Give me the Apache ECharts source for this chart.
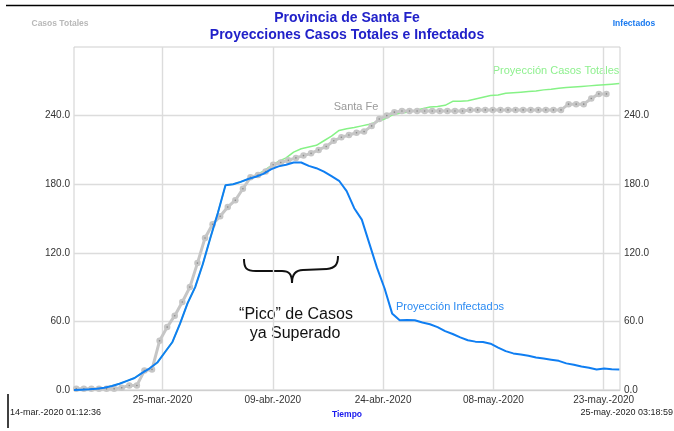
<!DOCTYPE html>
<html>
<head>
<meta charset="utf-8">
<script src="https://cdn.jsdelivr.net/npm/echarts@6/dist/echarts.min.js"></script>
<style>
  html, body { margin: 0; padding: 0; background: #fff; }
  #chart { width: 674px; height: 431px; }
</style>
</head>
<body>
<div id="chart"></div>
<script>
// dias desde el inicio de la simulacion (14-mar.-2020 01:12:36)
const diasTotal = 72.09;
const posFechas = [11.69, 26.25, 40.81, 55.37, 69.93];
const etiquetasFechas = ['25-mar.-2020', '09-abr.-2020', '24-abr.-2020', '08-may.-2020', '23-may.-2020'];
const etiquetasY = [0, 60, 120, 180, 240];

// casos reportados Santa Fe (un punto por dia)
const inicioSantaFe = 0.3;
const casosSantaFe = [1, 1, 1, 1, 1, 1, 2, 4, 4, 17,
  18, 43, 55, 65, 77, 90, 111, 133, 145, 152,
  160, 166, 176, 186, 188, 191, 197, 199, 201, 203,
  205, 207, 210, 213, 218, 221, 223, 225, 226, 231,
  237, 240, 243, 244, 244, 244, 244, 244, 244, 244,
  244, 244, 245, 245, 245, 245, 245, 245, 245, 245,
  245, 245, 245, 245, 245, 250, 250, 250, 255, 259,
  259];

// proyecciones del modelo (un valor por dia)
const proyCasosTotales = [0, 0.3, 0.6, 1, 2, 3.5, 5.5, 8, 10.5, 15,
  19, 24, 33, 42, 58, 76, 90, 110, 133, 155,
  179, 180, 182, 184.5, 188, 191.5, 196, 200, 203, 208,
  211, 212.5, 214, 218, 222, 227, 228.5, 229.5, 231, 232.5,
  234.5, 237, 240.5, 242, 243, 244.5, 246, 247.5, 248, 249,
  252.5, 252.5, 253, 254.5, 256, 257.5, 258, 259.5, 260, 260.5,
  261, 261.5, 262.5, 263, 264, 264.5, 265, 265.5, 266, 266.5,
  267, 267.5, 268];

const proyInfectados = [0, 0.3, 0.6, 1, 2, 3.5, 5.5, 8, 10.5, 15,
  19, 24, 33, 42, 58, 76, 90, 110, 133, 155,
  179, 180, 182, 184.5, 186.5, 189, 193, 195.6, 197, 199,
  199, 196, 194, 191, 187, 183, 174, 159, 149, 128,
  107, 89, 67, 61, 61.3, 61, 59, 57.5, 55, 51.5,
  49, 46, 43.5, 42.3, 42, 40.5, 37, 34, 32, 31,
  30, 28.5, 27.5, 26.5, 25.5, 23.3, 22, 20.5, 19.5, 18,
  18.8, 18.2, 18];

const fuente = 'Liberation Sans';
const azul = '#0f7ef2';
const verde = '#86f286';
const gris = '#c6c6c6';

const datosSantaFe = casosSantaFe.map((v, i) => [inicioSantaFe + i, v]);
const datosTotales = proyCasosTotales.map((v, i) => [i, v]);
const datosInfectados = proyInfectados.map((v, i) => [i, v]);

const chart = echarts.init(document.getElementById('chart'));

const ejeY = (pos) => ({
  type: 'value',
  position: pos,
  min: 0,
  max: 300,
  axisLine: { show: false },
  axisTick: { show: false, customValues: etiquetasY },
  axisLabel: {
    customValues: etiquetasY,
    margin: 4,
    fontSize: 10,
    fontFamily: fuente,
    color: '#333',
    formatter: (v) => v.toFixed(1),
  },
  splitLine: { show: pos === 'left', lineStyle: { color: '#dcdcdc', width: 1.4 } },
});

// llave "}" acostada del comentario
const trazo = { stroke: '#111', lineWidth: 2, fill: null };
const llave = [
  { type: 'bezierCurve', shape: { x1: 244, y1: 259, cpx1: 244, cpy1: 268, cpx2: 246, cpy2: 271, x2: 256, y2: 271 }, style: trazo },
  { type: 'line', shape: { x1: 256, y1: 271, x2: 282, y2: 271 }, style: trazo },
  { type: 'bezierCurve', shape: { x1: 282, y1: 271, cpx1: 289, cpy1: 271, cpx2: 292, cpy2: 274, x2: 292, y2: 283 }, style: trazo },
  { type: 'bezierCurve', shape: { x1: 292, y1: 283, cpx1: 292, cpy1: 274, cpx2: 296, cpy2: 270, x2: 303, y2: 270 }, style: trazo },
  { type: 'line', shape: { x1: 303, y1: 270, x2: 327, y2: 269 }, style: trazo },
  { type: 'bezierCurve', shape: { x1: 327, y1: 269, cpx1: 335, cpy1: 268, cpx2: 338, cpy2: 265, x2: 338, y2: 256 }, style: trazo },
];

const texto = (x, y, text, fill, fontSize, align, extra) => ({
  type: 'text', x, y,
  style: Object.assign({ text, fill, fontSize, fontFamily: fuente, align, verticalAlign: 'middle' }, extra || {}),
});

const option = {
  animation: false,
  backgroundColor: '#fff',
  title: {
    text: 'Provincia de Santa Fe\nProyecciones Casos Totales e Infectados',
    left: 342,
    top: 5,
    textAlign: 'center',
    textStyle: { fontSize: 14, fontWeight: 'bold', color: '#2121c9', fontFamily: fuente, lineHeight: 17 },
  },
  grid: { left: 74, right: 54, top: 47, bottom: 41, show: true, borderColor: '#cfcfcf', borderWidth: 1 },
  xAxis: {
    type: 'value',
    min: 0,
    max: diasTotal,
    name: 'Tiempo',
    nameLocation: 'middle',
    nameGap: 20,
    nameTextStyle: { fontSize: 8.5, fontWeight: 'bold', color: '#1a1aee', fontFamily: fuente },
    axisLine: { lineStyle: { color: '#cfcfcf' } },
    axisTick: { show: false, customValues: posFechas },
    axisLabel: {
      customValues: posFechas,
      margin: 5,
      fontSize: 10,
      fontFamily: fuente,
      color: '#333',
      formatter: (v) => {
        const i = posFechas.findIndex((p) => Math.abs(p - v) < 0.01);
        return i >= 0 ? etiquetasFechas[i] : '';
      },
    },
    splitLine: { show: true, lineStyle: { color: '#dcdcdc', width: 1.4 } },
  },
  yAxis: [ejeY('left'), ejeY('right')],
  series: [
    {
      name: 'Proyección Casos Totales',
      type: 'line',
      data: datosTotales,
      showSymbol: false,
      lineStyle: { color: verde, width: 1.5 },
      itemStyle: { color: verde },
      z: 2,
    },
    {
      name: 'Santa Fe',
      type: 'line',
      data: datosSantaFe,
      symbol: 'circle',
      symbolSize: 6.5,
      lineStyle: { color: gris, width: 3 },
      itemStyle: { color: gris },
      z: 3,
    },
    {
      // puntito central de cada marcador
      name: 'Santa Fe centro',
      type: 'scatter',
      data: datosSantaFe,
      symbolSize: 1.6,
      itemStyle: { color: '#7a7a7a' },
      z: 4,
    },
    {
      name: 'Proyección Infectados',
      type: 'line',
      yAxisIndex: 1,
      data: datosInfectados,
      showSymbol: false,
      lineStyle: { color: azul, width: 2 },
      itemStyle: { color: azul },
      z: 5,
    },
  ],
  graphic: [
    { type: 'line', shape: { x1: 6, y1: 5.5, x2: 674, y2: 5.5 }, style: { stroke: '#000', lineWidth: 1.5 } },
    { type: 'line', shape: { x1: 8, y1: 394, x2: 8, y2: 428 }, style: { stroke: '#000', lineWidth: 1.5 } },
    texto(60, 24, 'Casos Totales', '#b8b8b8', 8.5, 'center', { fontWeight: 'bold' }),
    texto(634, 24, 'Infectados', '#1a7af0', 8.5, 'center', { fontWeight: 'bold' }),
    texto(10, 413, '14-mar.-2020 01:12:36', '#222', 9, 'left'),
    texto(673, 413, '25-may.-2020 03:18:59', '#222', 9, 'right'),
    texto(356, 107, 'Santa Fe', '#9a9a9a', 11, 'center'),
    texto(556, 71, 'Proyección Casos Totales', '#8ef08e', 11, 'center'),
    texto(450, 307, 'Proyección Infectados', '#2a8af2', 11, 'center'),
    texto(296, 315, '\u201cPico\u201d de Casos', '#111', 16, 'center'),
    texto(295, 334, 'ya Superado', '#111', 16, 'center'),
  ].concat(llave),
};

chart.setOption(option);
</script>
</body>
</html>
